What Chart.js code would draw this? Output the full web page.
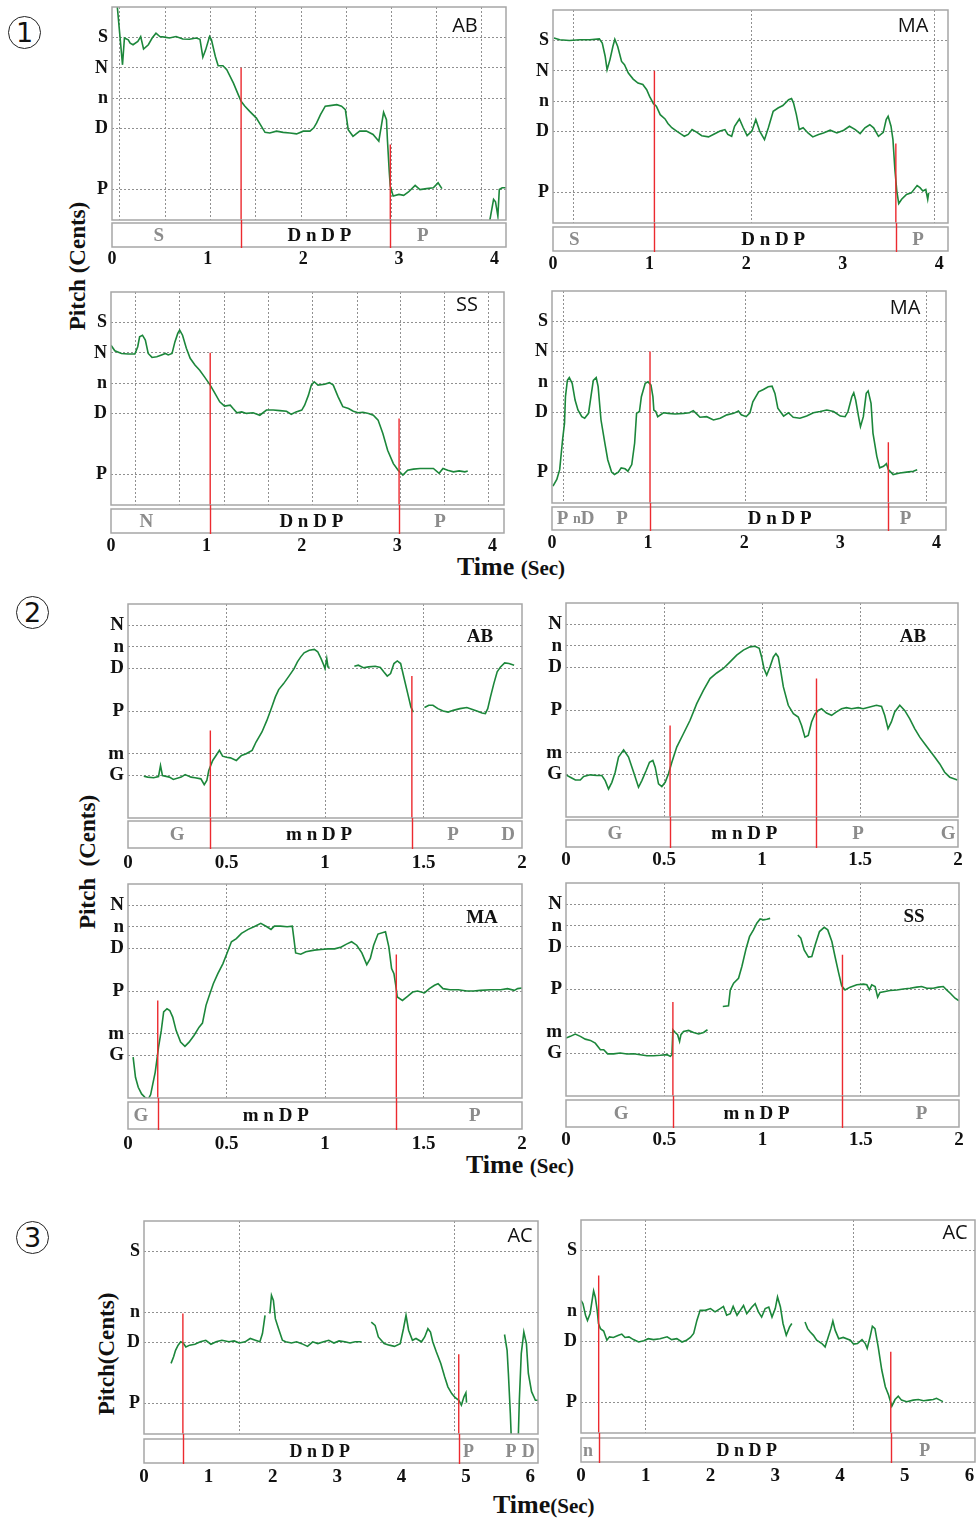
<!DOCTYPE html>
<html>
<head>
<meta charset="utf-8">
<script src="https://cdn.jsdelivr.net/npm/chart.js@4.4.0/dist/chart.umd.min.js"></script>
<style>
  body { margin: 0; background: #fff; width: 976px; height: 1520px; position: relative; overflow: hidden; }
  canvas { position: absolute; }
  .num { position: absolute; width: 31px; height: 31px; border: 1.3px solid #222; border-radius: 50%;
         font: 27px "DejaVu Sans", sans-serif; text-align: center; line-height: 31px; color: #111; }
  .ylab { position: absolute; font: bold 23px "Liberation Serif", serif; white-space: nowrap; color: #111;
          transform: translate(-50%, -50%) rotate(-90deg); }
  .xlab { position: absolute; font: bold 26px "Liberation Serif", serif; white-space: nowrap; color: #111; }
  .xlab span { font-size: 21px; }
</style>
</head>
<body>
<div class="num" style="left:8px;top:16px">1</div>
<div class="num" style="left:16px;top:596px">2</div>
<div class="num" style="left:16px;top:1221px">3</div>
<div class="ylab" style="left:78px;top:266px">Pitch (Cents)</div>
<div class="ylab" style="left:88px;top:862px">Pitch&nbsp; (Cents)</div>
<div class="ylab" style="left:107px;top:1354px">Pitch(Cents)</div>
<div class="xlab" style="left:457px;top:552px">Time <span>(Sec)</span></div>
<div class="xlab" style="left:466px;top:1150px">Time <span>(Sec)</span></div>
<div class="xlab" style="left:493px;top:1490px">Time<span>(Sec)</span></div>

<script>
// swara levels (cents) for each group of panels
const NOTES_1 = ['S', 'N', 'n', 'D', 'P'];
const CENTS_1 = [1200, 1100, 1000, 900, 700];
const NOTES_2 = ['N', 'n', 'D', 'P', 'm', 'G'];
const CENTS_2 = [1100, 1000, 900, 700, 500, 400];
const NOTES_3 = ['S', 'n', 'D', 'P'];
const CENTS_3 = [1200, 1000, 900, 700];

// time tick labels (sec)
const SEC_4 = [0, 1, 2, 3, 4];
const SEC_2 = [0, 0.5, 1, 1.5, 2];
const SEC_6 = [0, 1, 2, 3, 4, 5, 6];

// vertical grid lines (sec)
const GRID_1AB = [0.08, 0.56, 1.03, 1.50, 1.98, 2.45, 2.92, 3.39, 3.86];
const GRID_1MA = [0.21, 2.06, 3.95];
const GRID_1SS = [0.26, 0.72, 1.19, 1.65, 2.11, 2.58, 3.03, 3.50, 3.96];
const GRID_1MA2 = [0.12, 2.01, 3.90];
const GRID_2 = [0.5, 1, 1.5];
const GRID_3AC = [1.48, 4.82];
const GRID_3AC2 = [0.99, 4.21];

// pitch contours: [time, cents], one array per unbroken piece
const pitch1AB = [
  [[0.05,1320],[0.11,1110],[0.13,1198],[0.17,1192],[0.19,1181],[0.22,1176],[0.27,1187],[0.30,1203],[0.33,1162],[0.38,1176],[0.42,1198],[0.46,1214],[0.50,1203],[0.55,1201],[0.60,1198],[0.67,1203],[0.74,1195],[0.81,1194],[0.88,1198],[0.92,1194],[0.95,1135],[0.98,1160],[1.02,1203],[1.04,1192],[1.08,1138],[1.11,1107],[1.16,1107],[1.20,1094],[1.27,1050],[1.32,1012],[1.35,990],[1.39,974],[1.44,957],[1.51,935],[1.55,914],[1.60,888],[1.65,886],[1.72,892],[1.79,888],[1.86,886],[1.93,883],[2.00,892],[2.07,892],[2.11,903],[2.14,919],[2.18,946],[2.23,974],[2.28,976],[2.35,979],[2.40,974],[2.44,963],[2.47,897],[2.52,875],[2.59,892],[2.66,892],[2.73,881],[2.79,859],[2.81,897],[2.84,954],[2.87,930],[2.88,864],[2.90,755],[2.91,711],[2.94,679],[3.00,684],[3.05,681],[3.10,692],[3.17,714],[3.22,700],[3.29,703],[3.36,706],[3.41,722],[3.45,703]],
  [[3.94,580],[3.99,668],[4.01,660],[4.035,613],[4.05,700],[4.08,706],[4.12,706]]
];
const pitch1MA = [
  [[0.01,1208],[0.07,1202],[0.17,1200],[0.28,1202],[0.38,1202],[0.48,1205],[0.51,1191],[0.54,1148],[0.56,1104],[0.59,1137],[0.62,1180],[0.64,1204],[0.67,1180],[0.71,1131],[0.74,1120],[0.78,1093],[0.83,1073],[0.88,1060],[0.93,1055],[0.97,1038],[1.00,1016],[1.04,992],[1.07,984],[1.11,956],[1.16,942],[1.19,927],[1.23,913],[1.28,902],[1.33,891],[1.36,885],[1.40,891],[1.44,907],[1.49,898],[1.54,887],[1.61,883],[1.66,891],[1.73,902],[1.78,907],[1.81,891],[1.85,885],[1.88,918],[1.93,942],[1.97,913],[2.01,887],[2.06,902],[2.10,940],[2.14,902],[2.19,874],[2.23,913],[2.28,967],[2.33,978],[2.38,986],[2.44,1005],[2.47,1009],[2.49,995],[2.52,956],[2.55,907],[2.59,913],[2.64,896],[2.69,883],[2.75,891],[2.80,896],[2.87,905],[2.94,896],[3.01,905],[3.07,918],[3.13,907],[3.18,894],[3.23,913],[3.28,923],[3.32,913],[3.37,885],[3.42,898],[3.45,940],[3.47,951],[3.50,918],[3.52,874],[3.54,776],[3.56,705],[3.58,664],[3.61,678],[3.66,694],[3.71,699],[3.77,723],[3.80,716],[3.83,705],[3.86,710],[3.88,678],[3.89,699]]
];
const pitch1SS = [
  [[0,1125],[0.04,1107],[0.11,1098],[0.18,1096],[0.25,1096],[0.28,1120],[0.30,1153],[0.33,1158],[0.36,1142],[0.39,1098],[0.43,1085],[0.48,1087],[0.53,1093],[0.57,1098],[0.60,1093],[0.64,1098],[0.67,1136],[0.70,1164],[0.72,1175],[0.75,1158],[0.79,1115],[0.83,1082],[0.88,1060],[0.93,1043],[0.98,1021],[1.04,994],[1.09,967],[1.14,939],[1.19,925],[1.25,928],[1.28,917],[1.32,903],[1.37,906],[1.42,901],[1.49,903],[1.56,895],[1.63,912],[1.70,912],[1.77,910],[1.84,908],[1.89,898],[1.94,906],[2.00,912],[2.03,928],[2.07,961],[2.10,994],[2.13,1005],[2.17,994],[2.24,997],[2.29,1002],[2.33,994],[2.38,956],[2.43,923],[2.49,917],[2.54,908],[2.59,903],[2.64,905],[2.70,901],[2.75,895],[2.80,879],[2.85,835],[2.90,780],[2.96,736],[3.01,714],[3.06,698],[3.11,714],[3.17,718],[3.24,720],[3.31,720],[3.38,720],[3.44,704],[3.48,720],[3.53,714],[3.59,709],[3.65,712],[3.71,709],[3.74,712]]
];
const pitch1MA2 = [
  [[0.01,656],[0.05,678],[0.08,710],[0.11,809],[0.13,863],[0.14,951],[0.16,1005],[0.18,1014],[0.21,995],[0.24,940],[0.27,907],[0.31,885],[0.34,880],[0.38,896],[0.41,962],[0.43,1005],[0.46,1014],[0.48,984],[0.51,874],[0.55,798],[0.58,743],[0.62,702],[0.65,694],[0.69,702],[0.72,716],[0.76,713],[0.79,705],[0.83,727],[0.86,798],[0.88,896],[0.91,902],[0.93,951],[0.97,995],[1.00,1000],[1.03,989],[1.05,951],[1.06,907],[1.08,902],[1.10,885],[1.16,898],[1.21,896],[1.28,894],[1.37,896],[1.43,898],[1.47,905],[1.50,896],[1.54,883],[1.61,885],[1.68,874],[1.75,880],[1.82,891],[1.89,896],[1.94,904],[1.97,891],[2.02,885],[2.06,898],[2.09,934],[2.15,967],[2.20,975],[2.25,984],[2.29,986],[2.32,962],[2.35,913],[2.41,887],[2.46,898],[2.51,883],[2.58,880],[2.65,887],[2.72,898],[2.79,902],[2.86,907],[2.93,902],[3.00,887],[3.05,885],[3.08,902],[3.12,951],[3.14,964],[3.16,940],[3.19,885],[3.21,852],[3.24,885],[3.27,962],[3.29,970],[3.32,929],[3.34,831],[3.38,754],[3.41,716],[3.45,721],[3.48,730],[3.50,710],[3.55,694],[3.62,699],[3.69,702],[3.76,705],[3.80,710]]
];
const pitch2AB = [
  [[0.08,395],[0.10,391],[0.13,388],[0.155,394],[0.165,445],[0.175,398],[0.21,391],[0.23,380],[0.27,391],[0.29,403],[0.32,391],[0.34,388],[0.37,383],[0.387,356],[0.40,375],[0.41,422],[0.43,469],[0.447,492],[0.464,516],[0.48,489],[0.50,484],[0.52,481],[0.55,469],[0.576,492],[0.60,500],[0.63,516],[0.65,555],[0.68,602],[0.705,656],[0.73,719],[0.748,766],[0.765,800],[0.79,828],[0.817,863],[0.843,898],[0.86,930],[0.877,953],[0.894,972],[0.92,984],[0.946,988],[0.963,977],[0.98,945],[0.994,914],[1.0,898],[1.009,945],[1.015,906],[1.023,903]],
  [[1.149,909],[1.169,914],[1.195,902],[1.221,906],[1.255,909],[1.281,903],[1.298,883],[1.316,863],[1.333,875],[1.35,922],[1.367,934],[1.384,922],[1.40,859],[1.42,781],[1.436,719],[1.448,695]],
  [[1.505,716],[1.527,727],[1.548,727],[1.573,711],[1.60,700],[1.625,695],[1.651,703],[1.685,711],[1.72,716],[1.745,708],[1.771,700],[1.797,691],[1.814,688],[1.826,711],[1.84,766],[1.857,828],[1.874,883],[1.891,906],[1.912,925],[1.934,922],[1.96,914]]
];
const pitch2AB2 = [
  [[0,397],[0.022,386],[0.048,373],[0.073,373],[0.09,389],[0.124,397],[0.158,394],[0.183,394],[0.20,370],[0.217,331],[0.234,362],[0.251,409],[0.268,480],[0.294,514],[0.319,480],[0.345,409],[0.37,339],[0.387,370],[0.409,417],[0.426,456],[0.443,464],[0.455,433],[0.472,355],[0.489,342],[0.506,362],[0.523,402],[0.54,456],[0.565,527],[0.599,589],[0.633,652],[0.667,730],[0.701,792],[0.735,847],[0.769,873],[0.803,894],[0.837,925],[0.871,956],[0.905,980],[0.939,995],[0.964,998],[0.986,988],[0.998,948],[1.01,894],[1.024,863],[1.041,902],[1.058,948],[1.071,964],[1.083,948],[1.095,886],[1.109,808],[1.134,722],[1.16,683],[1.185,667],[1.202,628],[1.219,573],[1.236,581],[1.253,644],[1.27,680],[1.287,698],[1.304,706],[1.329,686],[1.355,675],[1.38,691],[1.406,706],[1.431,711],[1.457,706],[1.491,711],[1.516,706],[1.55,714],[1.584,722],[1.61,717],[1.626,675],[1.643,613],[1.66,644],[1.677,691],[1.703,722],[1.728,698],[1.754,659],[1.779,613],[1.805,573],[1.83,542],[1.856,511],[1.881,480],[1.907,448],[1.932,409],[1.958,386],[1.983,378],[1.997,373]]
];
const pitch2MA = [
  [[0.026,391],[0.038,297],[0.052,250],[0.069,219],[0.086,203],[0.103,195],[0.115,216],[0.126,266],[0.138,320],[0.146,375],[0.155,438],[0.169,516],[0.181,602],[0.198,617],[0.212,609],[0.227,578],[0.244,516],[0.267,461],[0.289,441],[0.31,461],[0.335,492],[0.361,531],[0.378,550],[0.396,633],[0.413,680],[0.433,734],[0.456,781],[0.482,828],[0.502,875],[0.525,930],[0.55,945],[0.576,969],[0.61,988],[0.645,1003],[0.674,1016],[0.705,1000],[0.726,988],[0.743,1003],[0.774,1003],[0.808,1000],[0.834,1003],[0.843,938],[0.851,878],[0.877,872],[0.903,883],[0.946,891],[0.98,894],[1.015,897],[1.049,897],[1.083,906],[1.109,919],[1.135,930],[1.161,914],[1.187,878],[1.212,823],[1.23,852],[1.247,914],[1.269,966],[1.307,977],[1.324,906],[1.338,805],[1.35,781],[1.359,727],[1.367,672],[1.393,656],[1.419,675],[1.445,695],[1.47,700],[1.505,691],[1.53,711],[1.556,727],[1.574,734],[1.599,711],[1.634,706],[1.677,706],[1.72,700],[1.754,700],[1.788,703],[1.84,706],[1.892,706],[1.926,711],[1.961,703],[1.978,711],[2.0,714]]
];
const pitch2SS = [
  [[0,472],[0.022,480],[0.047,491],[0.073,480],[0.098,467],[0.124,461],[0.149,448],[0.175,417],[0.192,417],[0.212,398],[0.242,398],[0.276,402],[0.31,397],[0.344,398],[0.378,394],[0.412,389],[0.446,389],[0.48,391],[0.514,394],[0.531,386],[0.539,394],[0.544,511],[0.556,498],[0.568,488],[0.578,456],[0.585,488],[0.598,503],[0.624,508],[0.649,498],[0.675,491],[0.70,498],[0.72,511]],
  [[0.798,620],[0.827,623],[0.836,698],[0.853,730],[0.878,753],[0.895,808],[0.917,894],[0.934,948],[0.954,980],[0.971,1011],[0.988,1031],[1.005,1027],[1.022,1030],[1.039,1034]],
  [[1.18,956],[1.195,941],[1.212,886],[1.234,852],[1.251,855],[1.268,909],[1.29,972],[1.314,992],[1.332,980],[1.353,925],[1.369,855],[1.386,784],[1.403,717],[1.42,698],[1.446,711],[1.48,722],[1.514,725],[1.531,722],[1.544,698],[1.556,722],[1.573,714],[1.586,664],[1.598,686],[1.624,691],[1.649,695],[1.683,698],[1.717,702],[1.751,706],[1.785,711],[1.81,714],[1.836,706],[1.869,706],[1.895,711],[1.92,714],[1.937,698],[1.958,680],[1.98,659],[2.0,647]]
];
const pitch3AC = [
  [[0.42,832],[0.46,854],[0.49,875],[0.53,892],[0.57,903],[0.61,899],[0.65,886],[0.71,892],[0.79,895],[0.875,903],[0.96,908],[1.04,895],[1.12,903],[1.21,908],[1.32,903],[1.40,906],[1.48,899],[1.57,903],[1.65,914],[1.73,908],[1.80,903],[1.84,930],[1.88,990]],
  [[1.955,996],[1.98,1056],[2.01,1039],[2.04,979],[2.09,946],[2.15,908],[2.20,903],[2.29,899],[2.37,903],[2.45,897],[2.54,888],[2.62,903],[2.70,897],[2.79,903],[2.87,908],[2.95,899],[3.03,906],[3.12,903],[3.20,899],[3.28,903],[3.38,903]],
  [[3.53,968],[3.59,957],[3.64,919],[3.73,897],[3.81,892],[3.89,888],[3.98,897],[4.03,946],[4.07,990],[4.11,941],[4.17,908],[4.225,914],[4.31,903],[4.36,919],[4.41,946],[4.45,935],[4.485,903],[4.54,870],[4.61,832],[4.67,788],[4.72,755],[4.78,733],[4.83,720],[4.89,711],[4.93,695],[4.97,722],[5.00,735],[5.01,703]],
  [[5.60,927],[5.64,875],[5.66,799],[5.69,668],[5.71,560]],
  [[5.81,560],[5.83,711],[5.86,864],[5.90,935],[5.94,897],[5.97,799],[6.02,739],[6.08,711],[6.12,711]]
];
const pitch3AC2 = [
  [[0,1036],[0.03,1025],[0.07,987],[0.10,970],[0.14,992],[0.18,1047],[0.195,1067],[0.22,1047],[0.25,1003],[0.27,960],[0.30,943],[0.35,935],[0.40,905],[0.44,916],[0.50,914],[0.58,921],[0.63,925],[0.68,914],[0.74,916],[0.81,907],[0.89,899],[0.97,903],[1.04,910],[1.12,907],[1.22,910],[1.33,916],[1.40,907],[1.48,910],[1.56,899],[1.63,905],[1.69,914],[1.74,927],[1.79,970],[1.84,1003],[1.92,1003],[2.00,1009],[2.07,998],[2.15,1009],[2.20,1016],[2.25,987],[2.305,992],[2.35,1016],[2.41,987],[2.46,1003],[2.51,1019],[2.56,992],[2.64,1014],[2.69,1025],[2.74,998],[2.79,981],[2.845,1009],[2.90,1014],[2.95,981],[3.00,1009],[3.035,1047],[3.08,1014],[3.12,960],[3.17,921],[3.22,948],[3.256,960]],
  [[3.46,965],[3.50,943],[3.54,932],[3.59,921],[3.64,905],[3.72,894],[3.77,883],[3.82,916],[3.86,943],[3.89,968],[3.925,938],[3.98,910],[4.05,914],[4.16,905],[4.21,892],[4.27,894],[4.34,907],[4.39,894],[4.42,878],[4.465,916],[4.50,951],[4.54,943],[4.59,883],[4.645,807],[4.70,752],[4.75,725],[4.80,688],[4.85,710],[4.90,721],[4.95,708],[5.03,703],[5.13,708],[5.21,710],[5.29,706],[5.365,708],[5.44,710],[5.49,714],[5.545,708],[5.59,703]]
];

// phrase boundaries: [time, top of marker in cents]
const bnd1AB = [[1.35, 1100], [2.91, 848]];
const bnd1MA = [[1.05, 1100], [3.55, 861]];
const bnd1SS = [[1.04, 1100], [3.02, 884]];
const bnd1MA2 = [[1.02, 1100], [3.50, 801]];
const bnd2AB = [[0.418, 609], [1.441, 863]];
const bnd2AB2 = [[0.531, 628], [1.278, 847]];
const bnd2MA = [[0.151, 656], [1.362, 870]];
const bnd2SS = [[0.544, 641], [1.407, 863]];
const bnd3AC = [[0.604, 996], [4.889, 862]];
const bnd3AC2 = [[0.273, 1118], [4.784, 867]];

// transcription strip: [text, time, kind] kind 1 = phrase, 0 = context, 2 = small context
const seg1AB = [['S', 0.49, 0], ['D n D P', 2.17, 1], ['P', 3.25, 0]];
const seg1MA = [['S', 0.22, 0], ['D n D P', 2.28, 1], ['P', 3.78, 0]];
const seg1SS = [['N', 0.37, 0], ['D n D P', 2.10, 1], ['P', 3.45, 0]];
const seg1MA2 = [['P', 0.11, 0], ['n', 0.26, 2], ['D', 0.37, 0], ['P', 0.73, 0], ['D n D P', 2.37, 1], ['P', 3.68, 0]];
const seg2AB = [['G', 0.25, 0], ['m n D P', 0.97, 1], ['P', 1.65, 0], ['D', 1.93, 0]];
const seg2AB2 = [['G', 0.25, 0], ['m n D P', 0.91, 1], ['P', 1.49, 0], ['G', 1.95, 0]];
const seg2MA = [['G', 0.065, 0], ['m n D P', 0.75, 1], ['P', 1.76, 0]];
const seg2SS = [['G', 0.28, 0], ['m n D P', 0.97, 1], ['P', 1.81, 0]];
const seg3AC = [['D n D P', 2.73, 1], ['P', 5.04, 0], ['P', 5.70, 0], ['D', 5.97, 0]];
const seg3AC2 = [['n', 0.11, 0], ['D n D P', 2.56, 1], ['P', 5.31, 0]];

const GREEN = '#1c873b', RED = '#ec2a2f', GRID = '#909090', FRAME = '#a6a6a6', SOFT = '#8c8c8c';
const SERIF = '"Liberation Serif", "Times New Roman", serif';
const SANS = '"Open Sans", "DejaVu Sans", sans-serif';
const YW = 45, PT = 3, PR = 10;
const FS = { 1: { y: 18, x: 18, s: 19 }, 2: { y: 19, x: 19, s: 19 }, 3: { y: 18, x: 19, s: 18 } };

const PANELS = [
  { g: 1, l: 112, r: 506, t: 7, b: 220, st: 223, sb: 247, ty: 258, xMax: 4.12, xt: SEC_4, grid: GRID_1AB, notes: NOTES_1, cents: CENTS_1, yr: [600, 1300], pitch: pitch1AB, bnd: bnd1AB, seg: seg1AB, name: 'AB', nx: 465, ny: 26 },
  { g: 1, l: 553, r: 948, t: 10, b: 223, st: 227, sb: 251, ty: 263, xMax: 4.09, xt: SEC_4, grid: GRID_1MA, notes: NOTES_1, cents: CENTS_1, yr: [600, 1300], pitch: pitch1MA, bnd: bnd1MA, seg: seg1MA, name: 'MA', nx: 913, ny: 26 },
  { g: 1, l: 111, r: 504, t: 292, b: 505, st: 509, sb: 533, ty: 545, xMax: 4.12, xt: SEC_4, grid: GRID_1SS, notes: NOTES_1, cents: CENTS_1, yr: [600, 1300], pitch: pitch1SS, bnd: bnd1SS, seg: seg1SS, name: 'SS', nx: 467, ny: 305 },
  { g: 1, l: 552, r: 946, t: 291, b: 503, st: 507, sb: 530, ty: 542, xMax: 4.10, xt: SEC_4, grid: GRID_1MA2, notes: NOTES_1, cents: CENTS_1, yr: [600, 1300], pitch: pitch1MA2, bnd: bnd1MA2, seg: seg1MA2, name: 'MA', nx: 905, ny: 308 },
  { g: 2, l: 128, r: 522, t: 604, b: 818, st: 821, sb: 848, ty: 861, xMax: 2, xt: SEC_2, grid: GRID_2, notes: NOTES_2, cents: CENTS_2, yr: [200, 1200], pitch: pitch2AB, bnd: bnd2AB, seg: seg2AB, name: 'AB', nx: 480, ny: 637 },
  { g: 2, l: 566, r: 958, t: 603, b: 817, st: 820, sb: 847, ty: 858, xMax: 2, xt: SEC_2, grid: GRID_2, notes: NOTES_2, cents: CENTS_2, yr: [200, 1200], pitch: pitch2AB2, bnd: bnd2AB2, seg: seg2AB2, name: 'AB', nx: 913, ny: 637 },
  { g: 2, l: 128, r: 522, t: 884, b: 1098, st: 1102, sb: 1129, ty: 1142, xMax: 2, xt: SEC_2, grid: GRID_2, notes: NOTES_2, cents: CENTS_2, yr: [200, 1200], pitch: pitch2MA, bnd: bnd2MA, seg: seg2MA, name: 'MA', nx: 482, ny: 918 },
  { g: 2, l: 566, r: 959, t: 883, b: 1096, st: 1100, sb: 1127, ty: 1138, xMax: 2, xt: SEC_2, grid: GRID_2, notes: NOTES_2, cents: CENTS_2, yr: [200, 1200], pitch: pitch2SS, bnd: bnd2SS, seg: seg2SS, name: 'SS', nx: 914, ny: 917 },
  { g: 3, l: 144, r: 538, t: 1221, b: 1434, st: 1439, sb: 1463, ty: 1475, xMax: 6.12, xt: SEC_6, grid: GRID_3AC, notes: NOTES_3, cents: CENTS_3, yr: [600, 1300], pitch: pitch3AC, bnd: bnd3AC, seg: seg3AC, name: 'AC', nx: 520, ny: 1236 },
  { g: 3, l: 581, r: 975, t: 1220, b: 1433, st: 1438, sb: 1462, ty: 1474, xMax: 6.085, xt: SEC_6, grid: GRID_3AC2, notes: NOTES_3, cents: CENTS_3, yr: [600, 1300], pitch: pitch3AC2, bnd: bnd3AC2, seg: seg3AC2, name: 'AC', nx: 955, ny: 1233 }
];

// frame, transcription strip, marker tails and singer tag
function makeDeco(p, ox, oy) {
  return {
    id: 'deco',
    afterDraw(chart) {
      const { ctx, chartArea: a } = chart;
      const x = chart.scales.x;
      const st = p.st - oy, sb = p.sb - oy;
      const fs = FS[p.g];
      ctx.save();
      ctx.strokeStyle = FRAME;
      ctx.lineWidth = 1.5;
      ctx.strokeRect(a.left, a.top, a.right - a.left, a.bottom - a.top);
      ctx.strokeRect(a.left, st, a.right - a.left, sb - st);

      ctx.strokeStyle = RED;
      ctx.lineWidth = 1.4;
      p.bnd.forEach(([t]) => {
        const px = Math.round(x.getPixelForValue(t)) + 0.5;
        ctx.beginPath();
        ctx.moveTo(px, a.bottom);
        ctx.lineTo(px, sb + 1);
        ctx.stroke();
      });

      ctx.textAlign = 'center';
      ctx.textBaseline = 'middle';
      p.seg.forEach(([txt, t, kind]) => {
        ctx.font = 'bold ' + (kind === 2 ? fs.s - 5 : fs.s) + 'px ' + SERIF;
        ctx.fillStyle = kind === 1 ? '#111' : SOFT;
        ctx.fillText(txt, x.getPixelForValue(t), (st + sb) / 2 + 1);
      });

      ctx.fillStyle = '#111';
      ctx.font = p.g === 2 ? 'bold 19px ' + SERIF : '20px ' + SANS;
      ctx.fillText(p.name, p.nx - ox, p.ny - oy);
      ctx.restore();
    }
  };
}

PANELS.forEach(p => {
  const ox = p.l - YW, oy = p.t - PT;
  const w = p.r - p.l + YW + PR;
  const h = p.ty + 14 - oy;
  const xh = h - PT - (p.b - p.t);
  const fs = FS[p.g];
  const cv = document.createElement('canvas');
  cv.width = w;
  cv.height = h;
  cv.style.left = ox + 'px';
  cv.style.top = oy + 'px';
  document.body.appendChild(cv);

  const yMin = p.yr[0];
  const datasets = [];
  p.bnd.forEach(([t, c]) => datasets.push({
    data: [{ x: t, y: c }, { x: t, y: yMin }],
    borderColor: RED, borderWidth: 1.4, pointRadius: 0, order: 0
  }));
  p.pitch.forEach(piece => datasets.push({
    data: piece.map(([t, c]) => ({ x: t, y: c })),
    borderColor: GREEN, borderWidth: 1.6, pointRadius: 0, tension: 0, order: 1
  }));

  new Chart(cv, {
    type: 'line',
    data: { datasets },
    options: {
      responsive: false,
      animation: false,
      devicePixelRatio: 1,
      events: [],
      layout: { padding: { left: 0, top: PT, right: PR, bottom: 0 } },
      plugins: { legend: { display: false }, tooltip: { enabled: false } },
      scales: {
        x: {
          type: 'linear', min: 0, max: p.xMax,
          afterBuildTicks: s => { s.ticks = p.xt.map(v => ({ value: v })); },
          afterFit: s => { s.height = xh; s.paddingLeft = 0; s.paddingRight = 0; },
          ticks: {
            autoSkip: false, maxRotation: 0, color: '#111',
            padding: Math.round(p.ty - p.b - fs.x * 0.6 - 6),
            font: { family: SERIF, size: fs.x, weight: 'bold' },
            callback: v => String(v)
          },
          grid: { display: false },
          border: { display: false }
        },
        xg: {
          type: 'linear', position: 'bottom', min: 0, max: p.xMax,
          afterBuildTicks: s => { s.ticks = p.grid.map(v => ({ value: v })); },
          afterFit: s => { s.height = 0; s.paddingLeft = 0; s.paddingRight = 0; },
          ticks: { display: false },
          grid: { color: GRID, lineWidth: 1, drawTicks: false },
          border: { display: false, dash: [2, 2] }
        },
        y: {
          type: 'linear', min: p.yr[0], max: p.yr[1],
          afterBuildTicks: s => { s.ticks = p.cents.map(v => ({ value: v })); },
          afterFit: s => { s.width = YW; s.paddingTop = 0; s.paddingBottom = 0; },
          ticks: {
            autoSkip: false, color: '#111', padding: 4,
            font: { family: SERIF, size: fs.y, weight: 'bold' },
            callback: (v, i) => p.notes[i]
          },
          grid: { color: GRID, lineWidth: 1, drawTicks: false },
          border: { display: false, dash: [2, 2] }
        }
      }
    },
    plugins: [makeDeco(p, ox, oy)]
  });
});
</script>
</body>
</html>
